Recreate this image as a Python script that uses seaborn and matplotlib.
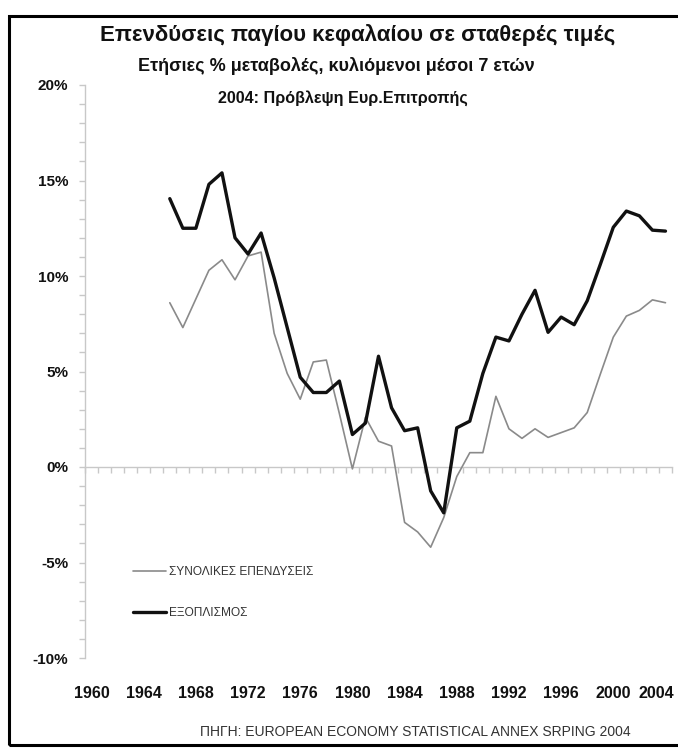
import numpy as np
import pandas as pd
import matplotlib.pyplot as plt
import seaborn as sns
from matplotlib.patches import Rectangle
from matplotlib.transforms import ScaledTranslation

# Annual % change, 7-year rolling averages
years = list(range(1966, 2005))
total_inv = [8.6, 7.3, 8.8, 10.3, 10.85, 9.8, 11.05, 11.25, 7.0, 4.9,
             3.55, 5.5, 5.6, 2.8, -0.1, 2.6, 1.35, 1.1, -2.9, -3.4,
             -4.2, -2.65, -0.5, 0.75, 0.75, 3.7, 2.0, 1.5, 2.0, 1.55,
             1.8, 2.05, 2.85, 4.85, 6.8, 7.9, 8.2, 8.75, 8.6]
equipment = [14.05, 12.5, 12.5, 14.8, 15.4, 12.0, 11.15, 12.25, 9.9, 7.3,
             4.7, 3.9, 3.9, 4.5, 1.7, 2.3, 5.8, 3.1, 1.9, 2.05,
             -1.25, -2.4, 2.05, 2.4, 4.9, 6.8, 6.6, 8.0, 9.25, 7.05,
             7.85, 7.45, 8.7, 10.6, 12.55, 13.4, 13.15, 12.4, 12.35]

series_names = ['ΣΥΝΟΛΙΚΕΣ ΕΠΕΝΔΥΣΕΙΣ', 'ΕΞΟΠΛΙΣΜΟΣ']
tick_years = list(range(1960, 2005, 4))
y_ticks = [-10, -5, 0, 5, 10, 15, 20]

title = 'Επενδύσεις παγίου κεφαλαίου σε σταθερές τιμές'
subtitle = 'Ετήσιες % μεταβολές, κυλιόμενοι μέσοι 7 ετών'
note = '2004: Πρόβλεψη Ευρ.Επιτροπής'
source = 'ΠΗΓΗ: EUROPEAN ECONOMY STATISTICAL ANNEX SRPING 2004'

sns.set_theme(style="white")
plt.rcParams['font.family'] = ['Liberation Sans', 'DejaVu Sans']

W, H = 678, 748
fig = plt.figure(figsize=(W / 100, H / 100), dpi=100)
ax = fig.add_axes([85 / W, 1 - 658 / H, 587 / W, 573 / H])

df = pd.DataFrame({'year': years, series_names[0]: total_inv, series_names[1]: equipment})

sns.lineplot(data=df, x='year', y=series_names[0], ax=ax, color='#8a8a8a',
             linewidth=1.2, label=series_names[0])
sns.lineplot(data=df, x='year', y=series_names[1], ax=ax, color='#111111',
             linewidth=2.4, label=series_names[1])

ax.set_xlim(tick_years[0] - 0.5, years[-1] + 0.5)
ax.set_ylim(y_ticks[0], y_ticks[-1])
ax.set_xlabel('')
ax.set_ylabel('')

# y axis: light grey spine with ticks every 1%
for s in ['top', 'right', 'bottom']:
    ax.spines[s].set_visible(False)
ax.spines['left'].set_color('#c8c8c8')
ax.spines['left'].set_linewidth(1.0)
ax.set_yticks(y_ticks)
ax.set_yticklabels([f'{v}%' for v in y_ticks])
ax.set_yticks(np.arange(y_ticks[0], y_ticks[-1] + 1, 1), minor=True)
ax.tick_params(axis='y', which='both', direction='out', color='#c8c8c8',
               length=4, width=1, left=True)
ax.tick_params(axis='y', which='major', pad=8, labelsize=11)
for lbl in ax.get_yticklabels():
    lbl.set_fontweight('bold')
    lbl.set_color('#111111')

ax.set_xticks(tick_years)
ax.set_xticklabels([str(y) for y in tick_years])
ax.tick_params(axis='x', length=0, pad=20, labelsize=11.5)
xlabels = ax.get_xticklabels()
for lbl in xlabels:
    lbl.set_fontweight('bold')
    lbl.set_color('#111111')
# last year label sits at the right edge: keep it inside the picture
xlabels[-1].set_ha('right')
xlabels[-1].set_transform(xlabels[-1].get_transform()
                          + ScaledTranslation(9 / 100, 0, fig.dpi_scale_trans))

# category axis drawn on the 0% line, ticks at year boundaries
zero_pos = (0 - y_ticks[0]) / (y_ticks[-1] - y_ticks[0])
sec = ax.secondary_xaxis(zero_pos)
sec.set_xticks(np.arange(tick_years[0] - 0.5, years[-1] + 1, 1))
sec.tick_params(axis='x', direction='out', length=4, width=1, color='#c8c8c8',
                labelbottom=False, labeltop=False)
for s in sec.spines.values():
    s.set_color('#c8c8c8')
    s.set_linewidth(1.0)

leg = ax.legend(loc='upper left', bbox_to_anchor=(133 / W, 1 - 566 / H),
                bbox_transform=fig.transFigure, frameon=False, fontsize=8.6,
                handlelength=2.8, handletextpad=0.25, labelspacing=2.45,
                borderpad=0, borderaxespad=0)
for t in leg.get_texts():
    t.set_color('#333333')

fig.text(358 / W, 1 - 35 / H, title, ha='center', va='center',
         fontsize=16, fontweight='bold', color='#111111')
fig.text(336 / W, 1 - 66 / H, subtitle, ha='center', va='center',
         fontsize=13, fontweight='bold', color='#111111')
fig.text(343 / W, 1 - 98 / H, note, ha='center', va='center',
         fontsize=11.6, fontweight='bold', color='#111111')
fig.text(200 / W, 1 - 732 / H, source, ha='left', va='center',
         fontsize=10, color='#333333')

# outer frame
fig.patches.append(Rectangle((9 / W, 1 - 745 / H), 1.0, (745 - 16) / H,
                             transform=fig.transFigure, fill=False,
                             edgecolor='black', linewidth=2.2))

fig.savefig('out.png', dpi=100)
